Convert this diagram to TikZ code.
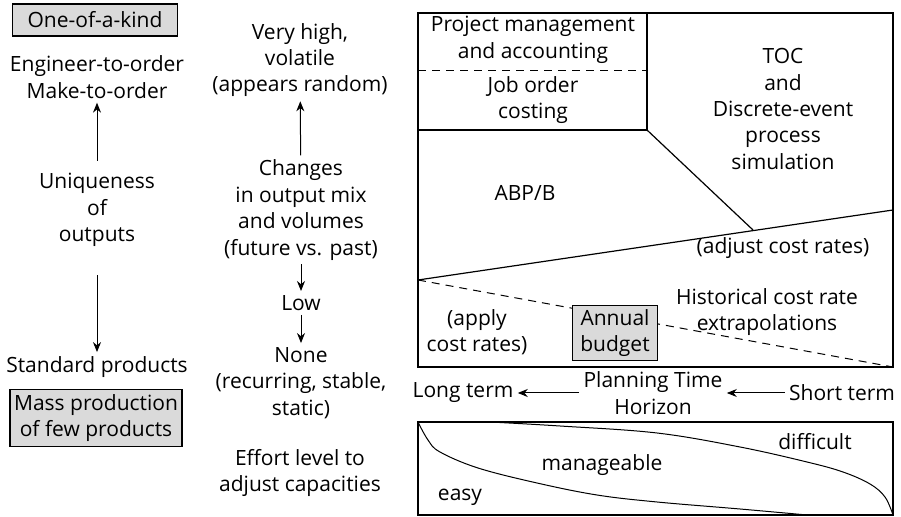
\documentclass[tikz,border=0pt]{standalone}
\usepackage{fontspec}
\setmainfont{Open Sans}
\usetikzlibrary{arrows.meta, positioning}
\definecolor{boxgray}{HTML}{DADADA}

\begin{document}
\begin{tikzpicture}[x=0.5pt, y=-0.5pt,
  lbl/.style={align=center, font=\fontsize{10.5}{13.2}\selectfont, inner sep=2pt},
  greybox/.style={lbl, draw, fill=boxgray, line width=0.6pt},
  arr/.style={-{Stealth[length=5pt, width=4pt]}, line width=0.5pt},
  frame/.style={line width=0.6pt},
  dashline/.style={line width=0.5pt, dash pattern=on 4pt off 3pt}]
  \useasboundingbox (0,0) rectangle (901,517);

  % left column: uniqueness of outputs
  \node[greybox, minimum width=82.5pt, minimum height=16pt] (onekind) at (95,20) {One-of-a-kind};
  \node[lbl] (eto) at (97,77) {Engineer-to-order\\Make-to-order};
  \node[lbl] (uniq) at (97,210) {Uniqueness\\of\\outputs};
  \node[lbl] (std) at (97,367) {Standard products};
  \node[greybox, minimum width=84.5pt, minimum height=28.5pt] (mass) at (96,418) {Mass production\\of few products};
  \draw[arr, shorten <=4pt] (uniq) -- (eto);
  \draw[arr, shorten <=12pt] (uniq) -- (std);

  % middle column: effort level
  \node[lbl] (vhigh) at (300,60) {Very high,\\volatile\\(appears random)};
  \node[lbl] (changes) at (301,210) {Changes\\in output mix\\and volumes\\(future vs. past)};
  \node[lbl] (low) at (301,303) {Low};
  \node[lbl] (none) at (301,383) {None\\(recurring, stable,\\static)};
  \node[lbl] (effort) at (300,473) {Effort level to\\adjust capacities};
  \draw[arr] (changes) -- (vhigh);
  \draw[arr] (changes) -- (low);
  \draw[arr] (low) -- (none);

  % right block: methods
  \draw[frame] (418,13) rectangle (893,367);
  \coordinate (corner) at (647,130);
  \coordinate (kink) at (753,230);
  \coordinate (leftmid) at (418,280);
  \draw[frame] (647,13) -- (corner) -- (418,130);
  \draw[dashline] (418,71) -- (647,71);
  \draw[frame] (corner) -- (kink);
  \draw[frame] (leftmid) -- (893,210);
  \draw[dashline] (leftmid) -- (893,367);

  \node[lbl] (pm) at (533,40) {Project management\\and accounting};
  \node[lbl] (joc) at (533,100) {Job order\\costing};
  \node[lbl] (toc) at (783,109) {TOC\\and\\Discrete-event\\process\\simulation};
  \node[lbl] (abpb) at (525,193) {ABP/B};
  \node[lbl] (adjust) at (783,248) {(adjust cost rates)};
  \node[lbl] (apply) at (477,332) {(apply\\cost rates)};
  \node[greybox, minimum width=42.5pt, minimum height=26pt] (budget) at (615,333) {Annual\\budget};
  \node[lbl] (hist) at (767,312) {Historical cost rate\\extrapolations};

  % planning time horizon
  \node[lbl] (plan) at (653,393) {Planning Time\\Horizon};
  \node[lbl] (longterm) at (463,393) {Long term};
  \node[lbl] (shortterm) at (842,393) {Short term};
  \draw[arr] (plan) -- (longterm);
  \draw[arr] (shortterm) -- (plan);

  % bottom block: difficulty
  \draw[frame] (418,422) rectangle (893,515);
  \draw[line width=0.5pt] plot[smooth, tension=0.6] coordinates
    {(418,422) (428,440) (440,452) (478,468) (537,483) (597,495) (657,502) (740,509) (807,515)};
  \draw[line width=0.5pt] plot[smooth, tension=0.6] coordinates
    {(490,422) (560,426) (657,433) (740,447) (807,462) (843,472) (870,484) (885,497) (893,515)};
  \node[lbl] (difficult) at (815,442) {difficult};
  \node[lbl] (manageable) at (602,465) {manageable};
  \node[lbl] (easy) at (460,497) {easy};
\end{tikzpicture}
\end{document}
